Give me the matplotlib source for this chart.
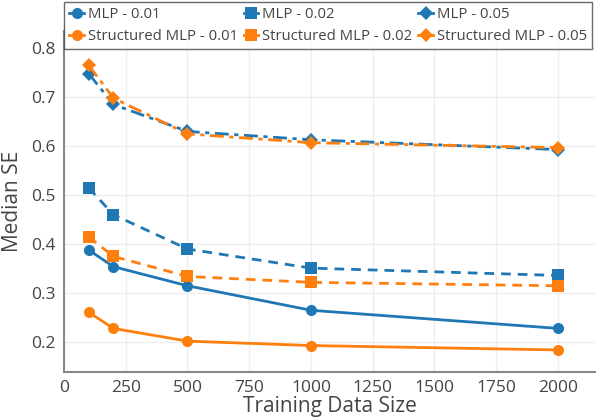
import matplotlib
matplotlib.use("Agg")
import matplotlib.pyplot as plt

sizes = [100, 200, 500, 1000, 2000]
mlp_001 = [0.388, 0.354, 0.315, 0.265, 0.228]
mlp_002 = [0.515, 0.460, 0.390, 0.351, 0.336]
mlp_005 = [0.748, 0.685, 0.630, 0.613, 0.593]
smlp_001 = [0.261, 0.228, 0.202, 0.193, 0.184]
smlp_002 = [0.415, 0.375, 0.334, 0.322, 0.315]
smlp_005 = [0.765, 0.698, 0.625, 0.607, 0.597]
xticks = [0, 250, 500, 750, 1000, 1250, 1500, 1750, 2000]
yticks = [0.2, 0.3, 0.4, 0.5, 0.6, 0.7, 0.8]

plt.rcParams['font.family'] = ['Open Sans', 'DejaVu Sans']
blue = '#1f77b4'
orange = '#ff7f0e'
tc = '#444444'

fig = plt.figure(figsize=(6, 4.17), dpi=100)
ax = fig.add_axes([64/600, 1-372/417, (595-64)/600, (372-31)/417])

series = [
    ("MLP - 0.01", mlp_001, blue, 'o', '-'),
    ("MLP - 0.02", mlp_002, blue, 's', (0, (3.5, 2.5))),
    ("MLP - 0.05", mlp_005, blue, 'D', (0, (5, 2, 1.5, 2))),
    ("Structured MLP - 0.01", smlp_001, orange, 'o', '-'),
    ("Structured MLP - 0.02", smlp_002, orange, 's', (0, (3.5, 2.5))),
    ("Structured MLP - 0.05", smlp_005, orange, 'D', (0, (5, 2, 1.5, 2))),
]
handles = []
for label, ys, c, m, ls in series:
    ms = 8 if m != 'D' else 7.5
    h, = ax.plot(sizes, ys, color=c, marker=m, linestyle=ls, linewidth=2,
                 markersize=ms, label=label, markeredgewidth=0)
    handles.append(h)

ax.set_xlim(0, 2150)
ax.set_ylim(0.139, 0.835)
ax.set_xticks(xticks)
ax.set_xticklabels([str(v) for v in xticks])
ax.set_yticks(yticks)
ax.set_yticklabels([f"{v:.1f}" for v in yticks])
ax.grid(True, color='#eeeeee', linewidth=1)
ax.set_axisbelow(True)
for s in ['top', 'right']:
    ax.spines[s].set_visible(False)
for s in ['left', 'bottom']:
    ax.spines[s].set_color('#888888')
    ax.spines[s].set_linewidth(1.5)
ax.tick_params(axis='both', length=0, labelsize=12.5, colors=tc, pad=6)
ax.set_xlabel("Training Data Size", fontsize=15, color=tc, labelpad=0)
ax.set_ylabel("Median SE", fontsize=15, color=tc, labelpad=6)

order = [0, 3, 1, 4, 2, 5]
leg = fig.legend(handles=[handles[i] for i in order], ncol=3, loc='upper left',
                 bbox_to_anchor=(64/600, 1-2/417, (592-64)/600, 0),
                 mode='expand', fontsize=10.7, frameon=True, fancybox=False,
                 handlelength=1.0, handletextpad=0.25, columnspacing=0.3,
                 borderpad=0.35, labelspacing=0.45, labelcolor=tc,
                 borderaxespad=0)
leg.get_frame().set_edgecolor('#444444')
leg.get_frame().set_linewidth(1)
for lh in leg.legend_handles:
    lh.set_linestyle('-')

fig.savefig("out.png", dpi=100)
